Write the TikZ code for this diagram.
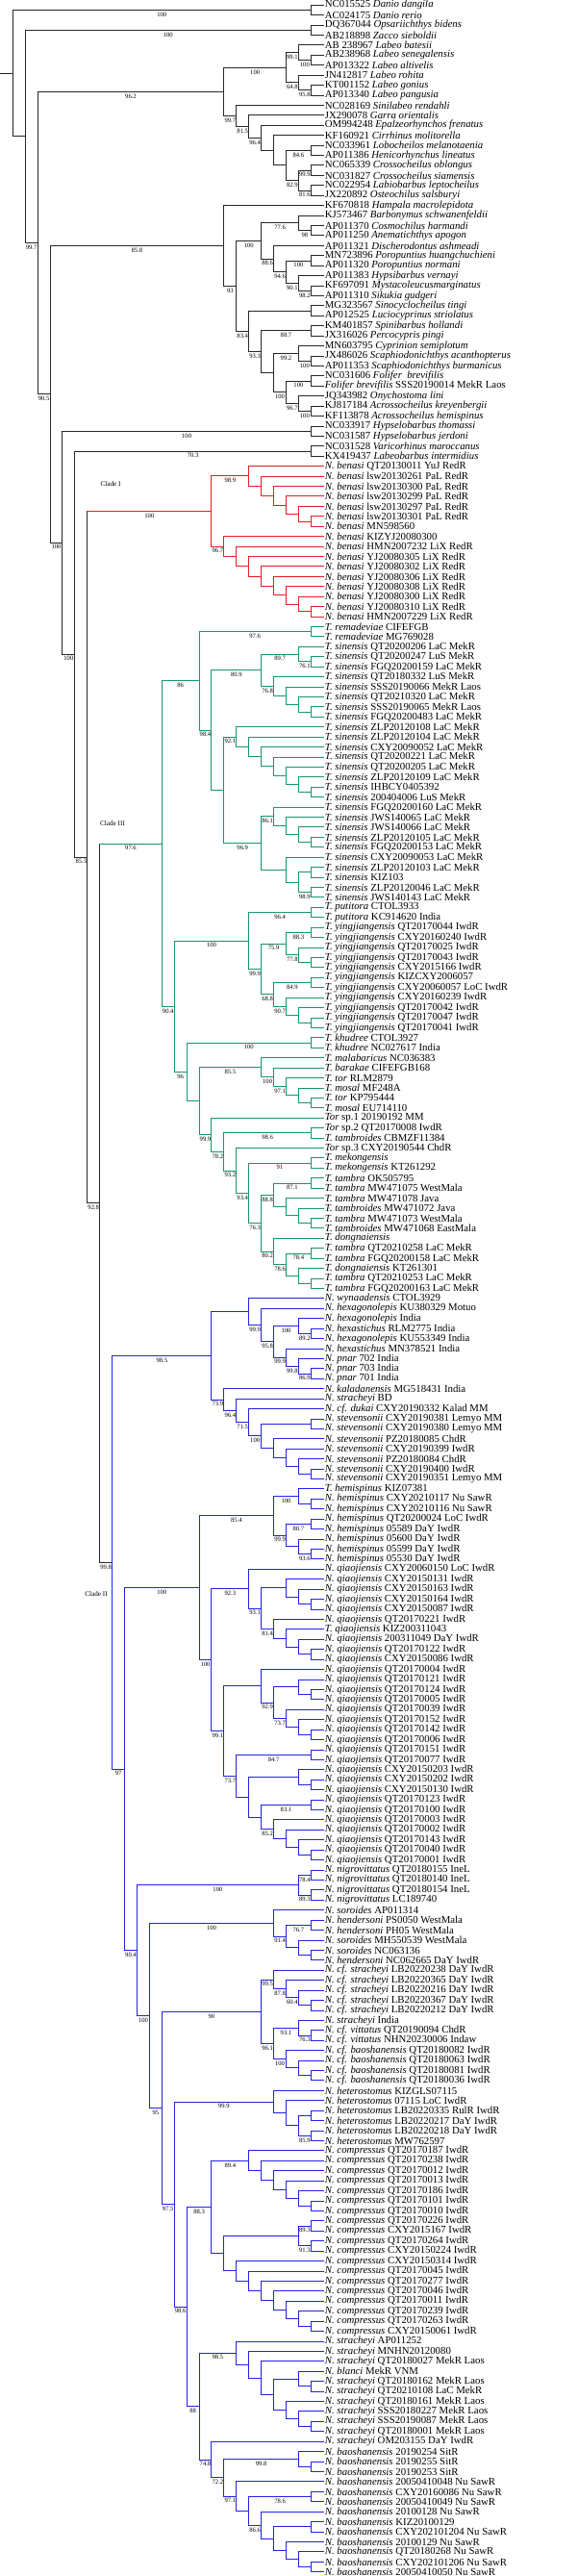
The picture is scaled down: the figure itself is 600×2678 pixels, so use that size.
\documentclass[tikz,border=0pt]{standalone}
\usepackage{fontspec}
\setmainfont{Liberation Serif}
\definecolor{cRed}{RGB}{232,28,36}
\definecolor{cGreen}{RGB}{24,150,104}
\definecolor{cBlue}{RGB}{34,34,230}
\definecolor{cBlack}{RGB}{40,40,40}
\newdimen\nmx \newdimen\nfy \newdimen\nly \newdimen\ntx \newdimen\nty
\newif\ifnfirst
\tikzset{
 ln/.style={line width=1pt, line cap=rect},
 bk/.style={ln, draw=cBlack},
 rd/.style={ln, draw=cRed},
 gn/.style={ln, draw=cGreen},
 bl/.style={ln, draw=cBlue},
 leaflab/.style={anchor=west, inner sep=1.4pt, font=\fontsize{10.8}{10.8}\selectfont},
 bslab/.style={midway, anchor=north, inner sep=0pt, yshift=-2.2pt, font=\fontsize{6.6}{6.6}\selectfont},
 cladelab/.style={font=\fontsize{7.2}{7.2}\selectfont}
}
\newcommand\lf[2]{%
  \coordinate (L#1) at (336.25,{5.2+10.424*#1});
  \node[leaflab] (T#1) at (L#1) {#2};
}
\newcommand\lfs[3]{\lf{#1}{\textit{#2} #3}}
\newcommand\inode[4][]{%
  \global\nmx=16000pt
  \global\nfirsttrue
  \foreach \chn in {#3}{%
    \pgfextractx{\ntx}{\pgfpointanchor{\chn}{center}}%
    \pgfextracty{\nty}{\pgfpointanchor{\chn}{center}}%
    \ifdim\ntx<\nmx \global\nmx=\ntx\fi
    \ifnfirst \global\nfy=\nty \xdef\nfirst{\chn}\global\nfirstfalse\fi
    \global\nly=\nty
    \xdef\nlast{\chn}%
  }%
  \edef\nX{\the\dimexpr\nmx-12.92pt\relax}%
  \edef\nY{\the\dimexpr(\nfy+\nly)/2\relax}%
  \coordinate (#2) at (\nX,\nY);
  \expandafter\gdef\csname nlab#2\endcsname{#1}%
  \draw[#4] (#2 |- \nfirst) -- (#2 |- \nlast);
  \foreach \chn in {#3}{%
    \draw[#4] (#2 |- \chn) -- (\chn);
    \expandafter\ifx\csname nlab\chn\endcsname\relax\else
      \expandafter\ifx\csname nlab\chn\endcsname\empty\else
        \path (#2 |- \chn) -- (\chn) node[bslab] {\csname nlab\chn\endcsname};
      \fi
    \fi
  }%
}
\begin{document}
\begin{tikzpicture}[x=1pt,y=-1pt]
\fill[white] (0,0) rectangle (600,2678);
\useasboundingbox (0,0) rectangle (600,2678);
% ---------- leaves ----------
\lf{0}{NC015525 \textit{Danio dangila}}
\lf{1}{AC024175 \textit{Danio rerio}}
\lf{2}{DQ367044 \textit{Opsariichthys bidens}}
\lf{3}{AB218898 \textit{Zacco sieboldii}}
\lf{4}{AB 238967 \textit{Labeo batesii}}
\lf{5}{AB238968 \textit{Labeo senegalensis}}
\lf{6}{AP013322 \textit{Labeo altivelis}}
\lf{7}{JN412817 \textit{Labeo rohita}}
\lf{8}{KT001152 \textit{Labeo gonius}}
\lf{9}{AP013340 \textit{Labeo pangusia}}
\lf{10}{NC028169 \textit{Sinilabeo rendahli}}
\lf{11}{JX290078 \textit{Garra orientalis}}
\lf{12}{OM994248 \textit{Epalzeorhynchos frenatus}}
\lf{13}{KF160921 \textit{Cirrhinus molitorella}}
\lf{14}{NC033961 \textit{Lobocheilos melanotaenia}}
\lf{15}{AP011386 \textit{Henicorhynchus lineatus}}
\lf{16}{NC065339 \textit{Crossocheilus oblongus}}
\lf{17}{NC031827 \textit{Crossocheilus siamensis}}
\lf{18}{NC022954 \textit{Labiobarbus leptocheilus}}
\lf{19}{JX220892 \textit{Osteochilus salsburyi}}
\lf{20}{KF670818 \textit{Hampala macrolepidota}}
\lf{21}{KJ573467 \textit{Barbonymus schwanenfeldii}}
\lf{22}{AP011370 \textit{Cosmochilus harmandi}}
\lf{23}{AP011250 \textit{Anematichthys apogon}}
\lf{24}{AP011321 \textit{Discherodontus ashmeadi}}
\lf{25}{MN723896 \textit{Poropuntius huangchuchieni}}
\lf{26}{AP011320 \textit{Poropuntius normani}}
\lf{27}{AP011383 \textit{Hypsibarbus vernayi}}
\lf{28}{KF697091 \textit{Mystacoleucusmarginatus}}
\lf{29}{AP011310 \textit{Sikukia gudgeri}}
\lf{30}{MG323567 \textit{Sinocyclocheilus tingi}}
\lf{31}{AP012525 \textit{Luciocyprinus striolatus}}
\lf{32}{KM401857 \textit{Spinibarbus hollandi}}
\lf{33}{JX316026 \textit{Percocypris pingi}}
\lf{34}{MN603795 \textit{Cyprinion semiplotum}}
\lf{35}{JX486026 \textit{Scaphiodonichthys acanthopterus}}
\lf{36}{AP011353 \textit{Scaphiodonichthys burmanicus}}
\lf{37}{NC031606 \textit{Folifer\ \ brevifilis}}
\lf{38}{\textit{Folifer brevifilis} SSS20190014 MekR Laos}
\lf{39}{JQ343982 \textit{Onychostoma lini}}
\lf{40}{KJ817184 \textit{Acrossocheilus kreyenbergii}}
\lf{41}{KF113878 \textit{Acrossocheilus hemispinus}}
\lf{42}{NC033917 \textit{Hypselobarbus thomassi}}
\lf{43}{NC031587 \textit{Hypselobarbus jerdoni}}
\lf{44}{NC031528 \textit{Varicorhinus maroccanus}}
\lf{45}{KX419437 \textit{Labeobarbus intermidius}}
\lfs{46}{N. benasi}{QT20130011 YuJ RedR}
\lfs{47}{N. benasi}{lsw20130261 PaL RedR}
\lfs{48}{N. benasi}{lsw20130300 PaL RedR}
\lfs{49}{N. benasi}{lsw20130299 PaL RedR}
\lfs{50}{N. benasi}{lsw20130297 PaL RedR}
\lfs{51}{N. benasi}{lsw20130301 PaL RedR}
\lfs{52}{N. benasi}{MN598560}
\lfs{53}{N. benasi}{KIZYJ20080300}
\lfs{54}{N. benasi}{HMN2007232 LiX RedR}
\lfs{55}{N. benasi}{YJ20080305 LiX RedR}
\lfs{56}{N. benasi}{YJ20080302 LiX RedR}
\lfs{57}{N. benasi}{YJ20080306 LiX RedR}
\lfs{58}{N. benasi}{YJ20080308 LiX RedR}
\lfs{59}{N. benasi}{YJ20080300 LiX RedR}
\lfs{60}{N. benasi}{YJ20080310 LiX RedR}
\lfs{61}{N. benasi}{HMN2007229 LiX RedR}
\lfs{62}{T. remadeviae}{CIFEFGB}
\lfs{63}{T. remadeviae}{MG769028}
\lfs{64}{T. sinensis}{QT20200206 LaC MekR}
\lfs{65}{T. sinensis}{QT20200247 LuS MekR}
\lfs{66}{T. sinensis}{FGQ20200159 LaC MekR}
\lfs{67}{T. sinensis}{QT20180332 LuS MekR}
\lfs{68}{T. sinensis}{SSS20190066 MekR Laos}
\lfs{69}{T. sinensis}{QT20210320 LaC MekR}
\lfs{70}{T. sinensis}{SSS20190065 MekR Laos}
\lfs{71}{T. sinensis}{FGQ20200483 LaC MekR}
\lfs{72}{T. sinensis}{ZLP20120108 LaC MekR}
\lfs{73}{T. sinensis}{ZLP20120104 LaC MekR}
\lfs{74}{T. sinensis}{CXY20090052 LaC MekR}
\lfs{75}{T. sinensis}{QT20200221 LaC MekR}
\lfs{76}{T. sinensis}{QT20200205 LaC MekR}
\lfs{77}{T. sinensis}{ZLP20120109 LaC MekR}
\lfs{78}{T. sinensis}{IHBCY0405392}
\lfs{79}{T. sinensis}{200404006 LuS MekR}
\lfs{80}{T. sinensis}{FGQ20200160 LaC MekR}
\lfs{81}{T. sinensis}{JWS140065 LaC MekR}
\lfs{82}{T. sinensis}{JWS140066 LaC MekR}
\lfs{83}{T. sinensis}{ZLP20120105 LaC MekR}
\lfs{84}{T. sinensis}{FGQ20200153 LaC MekR}
\lfs{85}{T. sinensis}{CXY20090053 LaC MekR}
\lfs{86}{T. sinensis}{ZLP20120103 LaC MekR}
\lfs{87}{T. sinensis}{KIZ103}
\lfs{88}{T. sinensis}{ZLP20120046 LaC MekR}
\lfs{89}{T. sinensis}{JWS140143 LaC MekR}
\lfs{90}{T. putitora}{CTOL3933}
\lfs{91}{T. putitora}{KC914620 India}
\lfs{92}{T. yingjiangensis}{QT20170044 IwdR}
\lfs{93}{T. yingjiangensis}{CXY20160240 IwdR}
\lfs{94}{T. yingjiangensis}{QT20170025 IwdR}
\lfs{95}{T. yingjiangensis}{QT20170043 IwdR}
\lfs{96}{T. yingjiangensis}{CXY2015166 IwdR}
\lfs{97}{T. yingjiangensis}{KIZCXY2006057}
\lfs{98}{T. yingjiangensis}{CXY20060057 LoC IwdR}
\lfs{99}{T. yingjiangensis}{CXY20160239 IwdR}
\lfs{100}{T. yingjiangensis}{QT20170042 IwdR}
\lfs{101}{T. yingjiangensis}{QT20170047 IwdR}
\lfs{102}{T. yingjiangensis}{QT20170041 IwdR}
\lfs{103}{T. khudree}{CTOL3927}
\lfs{104}{T. khudree}{NC027617 India}
\lfs{105}{T. malabaricus}{NC036383}
\lfs{106}{T. barakae}{CIFEFGB168}
\lfs{107}{T. tor}{RLM2879}
\lfs{108}{T. mosal}{MF248A}
\lfs{109}{T. tor}{KP795444}
\lfs{110}{T. mosal}{EU714110}
\lfs{111}{Tor}{sp.1 20190192 MM}
\lfs{112}{Tor}{sp.2 QT20170008 IwdR}
\lfs{113}{T. tambroides}{CBMZF11384}
\lfs{114}{Tor}{sp.3 CXY20190544 ChdR}
\lfs{115}{T. mekongensis}{}
\lfs{116}{T. mekongensis}{KT261292}
\lfs{117}{T. tambra}{OK505795}
\lfs{118}{T. tambra}{MW471075 WestMala}
\lfs{119}{T. tambra}{MW471078 Java}
\lfs{120}{T. tambroides}{MW471072 Java}
\lfs{121}{T. tambra}{MW471073 WestMala}
\lfs{122}{T. tambroides}{MW471068 EastMala}
\lfs{123}{T. dongnaiensis}{}
\lfs{124}{T. tambra}{QT20210258 LaC MekR}
\lfs{125}{T. tambra}{FGQ20200158 LaC MekR}
\lfs{126}{T. dongnaiensis}{KT261301}
\lfs{127}{T. tambra}{QT20210253 LaC MekR}
\lfs{128}{T. tambra}{FGQ20200163 LaC MekR}
\lfs{129}{N. wynaadensis}{CTOL3929}
\lfs{130}{N. hexagonolepis}{KU380329 Motuo}
\lfs{131}{N. hexagonolepis}{India}
\lfs{132}{N. hexastichus}{RLM2775 India}
\lfs{133}{N. hexagonolepis}{KU553349 India}
\lfs{134}{N. hexastichus}{MN378521 India}
\lfs{135}{N. pnar}{702 India}
\lfs{136}{N. pnar}{703 India}
\lfs{137}{N. pnar}{701 India}
\lfs{138}{N. kaladanensis}{MG518431 India}
\lfs{139}{N. stracheyi}{BD}
\lfs{140}{N. cf. dukai}{CXY20190332 Kalad MM}
\lfs{141}{N. stevensonii}{CXY20190381 Lemyo MM}
\lfs{142}{N. stevensonii}{CXY20190380 Lemyo MM}
\lfs{143}{N. stevensonii}{PZ20180085 ChdR}
\lfs{144}{N. stevensonii}{CXY20190399 IwdR}
\lfs{145}{N. stevensonii}{PZ20180084 ChdR}
\lfs{146}{N. stevensonii}{CXY20190400 IwdR}
\lfs{147}{N. stevensonii}{CXY20190351 Lemyo MM}
\lfs{148}{T. hemispinus}{KIZ07381}
\lfs{149}{N. hemispinus}{CXY20210117 Nu SawR}
\lfs{150}{N. hemispinus}{CXY20210116 Nu SawR}
\lfs{151}{N. hemispinus}{QT20200024 LoC IwdR}
\lfs{152}{N. hemispinus}{05589 DaY IwdR}
\lfs{153}{N. hemispinus}{05600 DaY IwdR}
\lfs{154}{N. hemispinus}{05599 DaY IwdR}
\lfs{155}{N. hemispinus}{05530 DaY IwdR}
\lfs{156}{N. qiaojiensis}{CXY20060150 LoC IwdR}
\lfs{157}{N. qiaojiensis}{CXY20150131 IwdR}
\lfs{158}{N. qiaojiensis}{CXY20150163 IwdR}
\lfs{159}{N. qiaojiensis}{CXY20150164 IwdR}
\lfs{160}{N. qiaojiensis}{CXY20150087 IwdR}
\lfs{161}{N. qiaojiensis}{QT20170221 IwdR}
\lfs{162}{T. qiaojiensis}{KIZ200311043}
\lfs{163}{N. qiaojiensis}{200311049 DaY IwdR}
\lfs{164}{N. qiaojiensis}{QT20170122 IwdR}
\lfs{165}{N. qiaojiensis}{CXY20150086 IwdR}
\lfs{166}{N. qiaojiensis}{QT20170004 IwdR}
\lfs{167}{N. qiaojiensis}{QT20170121 IwdR}
\lfs{168}{N. qiaojiensis}{QT20170124 IwdR}
\lfs{169}{N. qiaojiensis}{QT20170005 IwdR}
\lfs{170}{N. qiaojiensis}{QT20170039 IwdR}
\lfs{171}{N. qiaojiensis}{QT20170152 IwdR}
\lfs{172}{N. qiaojiensis}{QT20170142 IwdR}
\lfs{173}{N. qiaojiensis}{QT20170006 IwdR}
\lfs{174}{N. qiaojiensis}{QT20170151 IwdR}
\lfs{175}{N. qiaojiensis}{QT20170077 IwdR}
\lfs{176}{N. qiaojiensis}{CXY20150203 IwdR}
\lfs{177}{N. qiaojiensis}{CXY20150202 IwdR}
\lfs{178}{N. qiaojiensis}{CXY20150130 IwdR}
\lfs{179}{N. qiaojiensis}{QT20170123 IwdR}
\lfs{180}{N. qiaojiensis}{QT20170100 IwdR}
\lfs{181}{N. qiaojiensis}{QT20170003 IwdR}
\lfs{182}{N. qiaojiensis}{QT20170002 IwdR}
\lfs{183}{N. qiaojiensis}{QT20170143 IwdR}
\lfs{184}{N. qiaojiensis}{QT20170040 IwdR}
\lfs{185}{N. qiaojiensis}{QT20170001 IwdR}
\lfs{186}{N. nigrovittatus}{QT20180155 IneL}
\lfs{187}{N. nigrovittatus}{QT20180140 IneL}
\lfs{188}{N. nigrovittatus}{QT20180154 IneL}
\lfs{189}{N. nigrovittatus}{LC189740}
\lfs{190}{N. soroides}{AP011314}
\lfs{191}{N. hendersoni}{PS0050 WestMala}
\lfs{192}{N. hendersoni}{PH05 WestMala}
\lfs{193}{N. soroides}{MH550539 WestMala}
\lfs{194}{N. soroides}{NC063136}
\lfs{195}{N. hendersoni}{NC062665 DaY IwdR}
\lfs{196}{N. cf. stracheyi}{LB20220238 DaY IwdR}
\lfs{197}{N. cf. stracheyi}{LB20220365 DaY IwdR}
\lfs{198}{N. cf. stracheyi}{LB20220216 DaY IwdR}
\lfs{199}{N. cf. stracheyi}{LB20220367 DaY IwdR}
\lfs{200}{N. cf. stracheyi}{LB20220212 DaY IwdR}
\lfs{201}{N. stracheyi}{India}
\lfs{202}{N. cf. vittatus}{QT20190094 ChdR}
\lfs{203}{N. cf. vittatus}{NHN20230006 Indaw}
\lfs{204}{N. cf. baoshanensis}{QT20180082 IwdR}
\lfs{205}{N. cf. baoshanensis}{QT20180063 IwdR}
\lfs{206}{N. cf. baoshanensis}{QT20180081 IwdR}
\lfs{207}{N. cf. baoshanensis}{QT20180036 IwdR}
\lfs{208}{N. heterostomus}{KIZGLS07115}
\lfs{209}{N. heterostomus}{07115 LoC IwdR}
\lfs{210}{N. heterostomus}{LB20220335 RulR IwdR}
\lfs{211}{N. heterostomus}{LB20220217 DaY IwdR}
\lfs{212}{N. heterostomus}{LB20220218 DaY IwdR}
\lfs{213}{N. heterostomus}{MW762597}
\lfs{214}{N. compressus}{QT20170187 IwdR}
\lfs{215}{N. compressus}{QT20170238 IwdR}
\lfs{216}{N. compressus}{QT20170012 IwdR}
\lfs{217}{N. compressus}{QT20170013 IwdR}
\lfs{218}{N. compressus}{QT20170186 IwdR}
\lfs{219}{N. compressus}{QT20170101 IwdR}
\lfs{220}{N. compressus}{QT20170010 IwdR}
\lfs{221}{N. compressus}{QT20170226 IwdR}
\lfs{222}{N. compressus}{CXY2015167 IwdR}
\lfs{223}{N. compressus}{QT20170264 IwdR}
\lfs{224}{N. compressus}{CXY20150224 IwdR}
\lfs{225}{N. compressus}{CXY20150314 IwdR}
\lfs{226}{N. compressus}{QT20170045 IwdR}
\lfs{227}{N. compressus}{QT20170277 IwdR}
\lfs{228}{N. compressus}{QT20170046 IwdR}
\lfs{229}{N. compressus}{QT20170011 IwdR}
\lfs{230}{N. compressus}{QT20170239 IwdR}
\lfs{231}{N. compressus}{QT20170263 IwdR}
\lfs{232}{N. compressus}{CXY20150061 IwdR}
\lfs{233}{N. stracheyi}{AP011252}
\lfs{234}{N. stracheyi}{MNHN20120080}
\lfs{235}{N. stracheyi}{QT20180027 MekR Laos}
\lfs{236}{N. blanci}{MekR VNM}
\lfs{237}{N. stracheyi}{QT20180162 MekR Laos}
\lfs{238}{N. stracheyi}{QT20210108 LaC MekR}
\lfs{239}{N. stracheyi}{QT20180161 MekR Laos}
\lfs{240}{N. stracheyi}{SSS20180227 MekR Laos}
\lfs{241}{N. stracheyi}{SSS20190087 MekR Laos}
\lfs{242}{N. stracheyi}{QT20180001 MekR Laos}
\lfs{243}{N. stracheyi}{OM203155 DaY IwdR}
\lfs{244}{N. baoshanensis}{20190254 SitR}
\lfs{245}{N. baoshanensis}{20190255 SitR}
\lfs{246}{N. baoshanensis}{20190253 SitR}
\lfs{247}{N. baoshanensis}{20050410048 Nu SawR}
\lfs{248}{N. baoshanensis}{CXY20160086 Nu SawR}
\lfs{249}{N. baoshanensis}{20050410049 Nu SawR}
\lfs{250}{N. baoshanensis}{20100128 Nu SawR}
\lfs{251}{N. baoshanensis}{KIZ20100129}
\lfs{252}{N. baoshanensis}{CXY202101204 Nu SawR}
\lfs{253}{N. baoshanensis}{20100129 Nu SawR}
\lfs{254}{N. baoshanensis}{QT20180268 Nu SawR}
\lfs{255}{N. baoshanensis}{CXY202101206 Nu SawR}
\lfs{256}{N. baoshanensis}{20050410050 Nu SawR}
% ---------- outgroups ----------
\inode[100]{dan}{L0,L1}{bk}
\inode[100]{ops}{L2,L3}{bk}
\inode[100]{lb1}{L5,L6}{bk}
\inode[99.1]{lb2}{L4,lb1}{bk}
\inode[95.8]{lb3}{L8,L9}{bk}
\inode[64.8]{lb4}{L7,lb3}{bk}
\inode[100]{lb5}{lb2,lb4}{bk}
\inode[84.6]{s1}{L14,L15}{bk}
\inode[99.9]{s2}{L16,L17}{bk}
\inode[81.6]{s3}{L18,L19}{bk}
\inode[82.9]{s4}{s2,s3}{bk}
\inode{s5}{s1,s4}{bk}
\inode{s6}{L13,s5}{bk}
\inode[96.4]{s7}{L12,s6}{bk}
\inode[81.5]{s8}{L11,s7}{bk}
\inode[99.7]{s9}{L10,s8}{bk}
\inode[96.2]{lbs}{lb5,s9}{bk}
\inode[98]{e1}{L22,L23}{bk}
\inode[77.6]{e2}{L21,e1}{bk}
\inode[98.2]{e3}{L28,L29}{bk}
\inode[90.1]{e4}{L27,e3}{bk}
\inode[100]{e5}{L25,L26}{bk}
\inode[94.6]{e6}{e5,e4}{bk}
\inode[88.6]{e7}{L24,e6}{bk}
\inode[100]{e8}{e2,e7}{bk}
\inode{e9}{L30,L31}{bk}
\inode[100]{e10}{L35,L36}{bk}
\inode[99.2]{e11}{L34,e10}{bk}
\inode[100]{e12}{L40,L41}{bk}
\inode[96.7]{e13}{L39,e12}{bk}
\inode[100]{e14}{L37,L38}{bk}
\inode[100]{e15}{e14,e13}{bk}
\inode{e16}{e11,e15}{bk}
\inode[88.7]{e17a}{L32,L33}{bk}
\inode[93.3]{e17}{e17a,e16}{bk}
\inode[83.4]{e18}{e9,e17}{bk}
\inode[93]{e19}{e8,e18}{bk}
\inode[85.8]{E}{L20,e19}{bk}
\inode[100]{hyp}{L42,L43}{bk}
\inode[70.3]{var}{L44,L45}{bk}
% ---------- Clade I ----------
\inode{r1}{L51,L52}{rd}
\inode{r2}{L50,r1}{rd}
\inode{r3}{L49,r2}{rd}
\inode{r4}{L48,r3}{rd}
\inode{r5}{L47,r4}{rd}
\inode[98.9]{r6}{L46,r5}{rd}
\inode{r7}{L60,L61}{rd}
\inode{r8}{L59,r7}{rd}
\inode{r9}{L58,r8}{rd}
\inode{r10}{L57,r9}{rd}
\inode{r11}{L56,r10}{rd}
\inode{r12}{L55,r11}{rd}
\inode{r13}{L54,r12}{rd}
\inode[96.7]{r14}{L53,r13}{rd}
\inode[100]{C1}{r6,r14}{rd}
% ---------- Clade III ----------
\inode[97.6]{g1}{L62,L63}{gn}
\inode[76.1]{g2}{L65,L66}{gn}
\inode[89.7]{g3}{L64,g2}{gn}
\inode{g4}{L70,L71}{gn}
\inode{g5}{L69,g4}{gn}
\inode{g6}{L68,g5}{gn}
\inode[76.8]{g7}{L67,g6}{gn}
\inode[80.9]{g8}{g3,g7}{gn}
\inode{g9}{L78,L79}{gn}
\inode{g10}{L77,g9}{gn}
\inode{g11}{L76,g10}{gn}
\inode{g12}{L75,g11}{gn}
\inode{g13}{L74,g12}{gn}
\inode{g14}{L73,g13}{gn}
\inode[92.1]{g15}{L72,g14}{gn}
\inode{g16}{L83,L84}{gn}
\inode{g17}{L82,g16}{gn}
\inode{g18}{L81,g17}{gn}
\inode[86.1]{g19}{L80,g18}{gn}
\inode{g20}{L86,L87}{gn}
\inode[98.9]{g21}{L88,L89}{gn}
\inode{g22}{g20,g21}{gn}
\inode{g23}{L85,g22}{gn}
\inode[96.9]{g24}{g19,g23}{gn}
\inode{g25}{g15,g24}{gn}
\inode[98.4]{g26}{g8,g25}{gn}
\inode[86]{g27}{g1,g26}{gn}
\inode[96.4]{g28}{L90,L91}{gn}
\inode[88.3]{g29}{L92,L93}{gn}
\inode{g30}{L95,L96}{gn}
\inode[77.8]{g31}{L94,g30}{gn}
\inode[75.9]{g32}{g29,g31}{gn}
\inode[84.9]{g33}{L97,L98}{gn}
\inode{g34}{L101,L102}{gn}
\inode{g35}{L100,g34}{gn}
\inode[90.7]{g36}{L99,g35}{gn}
\inode[68.8]{g37}{g33,g36}{gn}
\inode[99.9]{g38}{g32,g37}{gn}
\inode[100]{g39}{g28,g38}{gn}
\inode[100]{g40}{L103,L104}{gn}
\inode{g41}{L109,L110}{gn}
\inode{g42}{L108,g41}{gn}
\inode[97.1]{g43}{L107,g42}{gn}
\inode[100]{g44}{L106,g43}{gn}
\inode[85.5]{g45}{L105,g44}{gn}
\inode[98.6]{g46}{L112,L113}{gn}
\inode[91]{g47}{L115,L116}{gn}
\inode[87.1]{g48}{L117,L118}{gn}
\inode{g49}{L121,L122}{gn}
\inode{g50}{L120,g49}{gn}
\inode{g51}{L119,g50}{gn}
\inode[88.8]{g52}{g48,g51}{gn}
\inode[78.4]{g53}{L124,L125}{gn}
\inode{g54}{L127,L128}{gn}
\inode{g55}{L126,g54}{gn}
\inode[78.6]{g56}{g53,g55}{gn}
\inode[80.2]{g57}{L123,g56}{gn}
\inode[76.3]{g58}{g52,g57}{gn}
\inode[93.4]{g59}{g47,g58}{gn}
\inode[93.2]{g60}{L114,g59}{gn}
\inode[78.2]{g61}{g46,g60}{gn}
\inode[99.9]{g62}{L111,g61}{gn}
\inode{g63}{g45,g62}{gn}
\inode[96]{g64}{g40,g63}{gn}
\inode[90.4]{g65}{g39,g64}{gn}
\inode[97.6]{C3}{g27,g65}{gn}
% ---------- Clade II ----------
\inode[86.9]{b1}{L136,L137}{bl}
\inode[99.8]{b2}{L135,b1}{bl}
\inode[99.9]{b3}{L134,b2}{bl}
\inode[89.2]{b4}{L132,L133}{bl}
\inode[100]{b5}{L131,b4}{bl}
\inode[95.8]{b6}{b5,b3}{bl}
\inode[99.9]{b7}{L130,b6}{bl}
\inode{b8}{L129,b7}{bl}
\inode{b9}{L146,L147}{bl}
\inode{b10}{L145,b9}{bl}
\inode{b11}{L144,b10}{bl}
\inode{b12}{L143,b11}{bl}
\inode{b13}{L141,L142}{bl}
\inode[100]{b14}{b13,b12}{bl}
\inode[71.5]{b15}{L140,b14}{bl}
\inode[96.4]{b16}{L139,b15}{bl}
\inode[73.9]{b17}{L138,b16}{bl}
\inode[98.5]{b18}{b8,b17}{bl}
\inode{b19}{L149,L150}{bl}
\inode[100]{b20}{L148,b19}{bl}
\inode[80.7]{b21}{L151,L152}{bl}
\inode[93.6]{b22}{L154,L155}{bl}
\inode{b23}{L153,b22}{bl}
\inode[99.9]{b24}{b21,b23}{bl}
\inode[85.4]{b25}{b20,b24}{bl}
\inode{b26}{L159,L160}{bl}
\inode{b27}{L158,b26}{bl}
\inode{b28}{L157,b27}{bl}
\inode{b29}{L164,L165}{bl}
\inode{b30}{L163,b29}{bl}
\inode{b31}{L162,b30}{bl}
\inode[81.4]{b32}{L161,b31}{bl}
\inode[93.1]{b33}{b28,b32}{bl}
\inode[92.3]{b34}{L156,b33}{bl}
\inode{b35}{L168,L169}{bl}
\inode{b36}{L167,b35}{bl}
\inode{b37}{L172,L173}{bl}
\inode{b38}{L171,b37}{bl}
\inode[73.7]{b39}{L170,b38}{bl}
\inode[92.9]{b40}{b36,b39}{bl}
\inode{b41}{L166,b40}{bl}
\inode[84.7]{b42}{L174,L175}{bl}
\inode{b43}{L177,L178}{bl}
\inode{b44}{L176,b43}{bl}
\inode[83.1]{b45}{L179,L180}{bl}
\inode{b46}{L184,L185}{bl}
\inode{b47}{L183,b46}{bl}
\inode{b48}{L182,b47}{bl}
\inode[85.2]{b49}{L181,b48}{bl}
\inode{b50}{b45,b49}{bl}
\inode{b51}{b44,b50}{bl}
\inode[73.7]{b52}{b42,b51}{bl}
\inode[99.1]{b53}{b41,b52}{bl}
\inode[100]{b54}{b34,b53}{bl}
\inode[100]{b55}{b25,b54}{bl}
\inode[78.4]{b56}{L186,L187}{bl}
\inode[89.3]{b57}{L188,L189}{bl}
\inode[100]{b58}{b56,b57}{bl}
\inode[76.7]{b59}{L191,L192}{bl}
\inode{b60}{L194,L195}{bl}
\inode{b61}{L193,b60}{bl}
\inode[91.4]{b62}{b59,b61}{bl}
\inode[100]{b63}{L190,b62}{bl}
\inode{b64}{L199,L200}{bl}
\inode[60.4]{b65}{L198,b64}{bl}
\inode[87.8]{b66}{L197,b65}{bl}
\inode[99.5]{b67}{L196,b66}{bl}
\inode[76.3]{b68}{L202,L203}{bl}
\inode[93.1]{b69}{L201,b68}{bl}
\inode{b70}{L206,L207}{bl}
\inode{b71}{L205,b70}{bl}
\inode[100]{b72}{L204,b71}{bl}
\inode[96.1]{b73}{b69,b72}{bl}
\inode[90]{b74}{b67,b73}{bl}
\inode{b75}{L210,L211}{bl}
\inode[85.9]{b76}{L212,L213}{bl}
\inode{b77}{b75,b76}{bl}
\inode{b78}{L209,b77}{bl}
\inode[99.9]{b79}{L208,b78}{bl}
\inode{b80}{L219,L220}{bl}
\inode{b81}{L218,b80}{bl}
\inode{b82}{L217,b81}{bl}
\inode{b83}{L216,b82}{bl}
\inode{b84}{L215,b83}{bl}
\inode[89.4]{b85}{L214,b84}{bl}
\inode[89.3]{b86}{L221,L222}{bl}
\inode[91.3]{b87}{L223,L224}{bl}
\inode{b88}{b86,b87}{bl}
\inode{b89}{L231,L232}{bl}
\inode{b90}{L230,b89}{bl}
\inode{b91}{L229,b90}{bl}
\inode{b92}{L228,b91}{bl}
\inode{b93}{L227,b92}{bl}
\inode{b94}{L226,b93}{bl}
\inode{b95}{L225,b94}{bl}
\inode{b96}{b88,b95}{bl}
\inode[88.3]{b97}{b85,b96}{bl}
\inode{b98}{L237,L238}{bl}
\inode{b99}{L236,b98}{bl}
\inode{b100}{L241,L242}{bl}
\inode{b101}{L240,b100}{bl}
\inode{b102}{L239,b101}{bl}
\inode{b103}{b99,b102}{bl}
\inode{b104}{L235,b103}{bl}
\inode{b105}{L234,b104}{bl}
\inode[98.5]{b106}{L233,b105}{bl}
\inode{b107}{L245,L246}{bl}
\inode[99.8]{b108}{L244,b107}{bl}
\inode[78.6]{b109}{L248,L249}{bl}
\inode{b110}{L255,L256}{bl}
\inode{b111}{L254,b110}{bl}
\inode{b112}{L253,b111}{bl}
\inode{b113}{L251,L252}{bl}
\inode{b114}{b113,b112}{bl}
\inode[86.6]{b115}{L250,b114}{bl}
\inode{b116}{b109,b115}{bl}
\inode[97.1]{b117}{L247,b116}{bl}
\inode[72.2]{b118}{b108,b117}{bl}
\inode[74.8]{b119}{L243,b118}{bl}
\inode[88]{b120}{b106,b119}{bl}
\inode[98.6]{b121}{b97,b120}{bl}
\inode[97.5]{b122}{b79,b121}{bl}
\inode[95]{b123}{b74,b122}{bl}
\inode[100]{b124}{b63,b123}{bl}
\inode[90.4]{b125}{b58,b124}{bl}
\inode[97]{b126}{b55,b125}{bl}
\inode[99.8]{C2}{b18,b126}{bl}
% ---------- backbone ----------
\inode[92.8]{I}{C3,C2}{bk}
\inode[85.3]{H}{C1,I}{bk}
\inode[100]{G}{var,H}{bk}
\inode[100]{F}{hyp,G}{bk}
\inode[90.5]{D}{E,F}{bk}
\inode[99.7]{B}{lbs,D}{bk}
\inode{A}{ops,B}{bk}
\inode{R}{dan,A}{bk}
\draw[rd] (H |- C1) -- (C1);
\draw[gn] (I |- C3) -- (C3);
\coordinate (O) at (0,0);
\draw[bk] (R -| O) -- (R);
% ---------- clade labels ----------
\node[cladelab] (cl1) at (115,503) {Clade I};
\node[cladelab] (cl3) at (117,856) {Clade III};
\node[cladelab] (cl2) at (100,1657) {Clade II};
\end{tikzpicture}
\end{document}
